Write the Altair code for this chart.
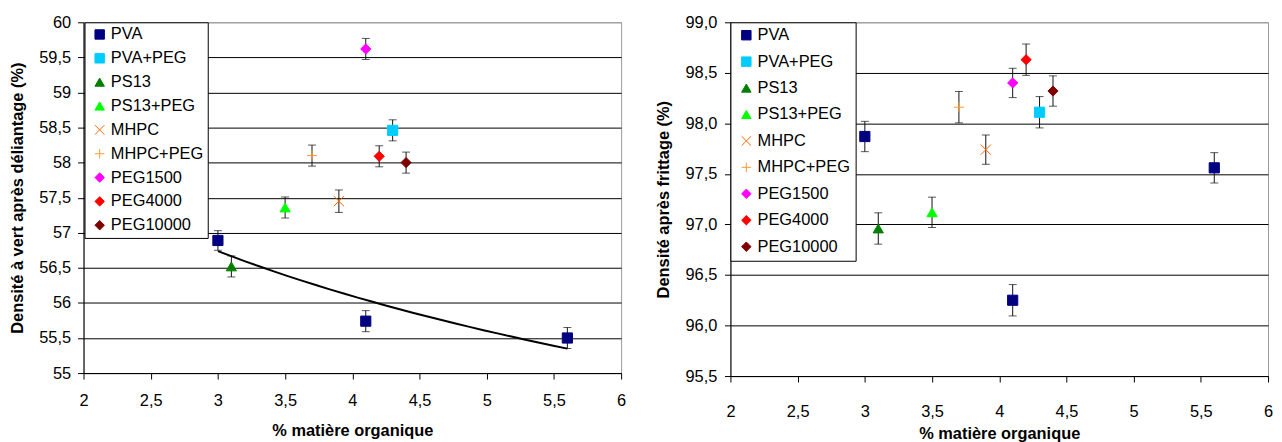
import altair as alt
import pandas as pd

# ---- data ----
series = ["PVA", "PVA+PEG", "PS13", "PS13+PEG", "MHPC", "MHPC+PEG",
          "PEG1500", "PEG4000", "PEG10000"]
colors = ["#000080", "#00CCFF", "#008000", "#00FF00", "#FF6600", "#FF9933",
          "#FF00FF", "#FF0000", "#800000"]
shapes = ["square", "square", "triangle-up", "triangle-up",
          "M-1,-1L1,1M-1,1L1,-1", "M-1,0L1,0M0,-1L0,1",
          "diamond", "diamond", "diamond"]

pt_serie = ["PVA", "PVA", "PVA", "PVA+PEG", "PS13", "PS13+PEG", "MHPC",
            "MHPC+PEG", "PEG1500", "PEG4000", "PEG10000"]
pt_x = [3.0, 4.1, 5.6, 4.3, 3.1, 3.5, 3.9, 3.7, 4.1, 4.2, 4.4]

green_y = [56.89, 55.74, 55.50, 58.46, 56.52, 57.36, 57.45, 58.10, 59.62, 58.09, 58.00]
green_err = [0.14, 0.15, 0.15, 0.15, 0.15, 0.15, 0.16, 0.15, 0.15, 0.15, 0.15]

sint_y = [97.87, 96.25, 97.56, 98.11, 96.96, 97.12, 97.74, 98.16, 98.40, 98.63, 98.32]
sint_err = [0.15, 0.155, 0.15, 0.155, 0.155, 0.15, 0.145, 0.155, 0.145, 0.155, 0.15]

x_ticks = [2, 2.5, 3, 3.5, 4, 4.5, 5, 5.5, 6]
left_y_ticks = [55, 55.5, 56, 56.5, 57, 57.5, 58, 58.5, 59, 59.5, 60]
right_y_ticks = [95.5, 96.0, 96.5, 97.0, 97.5, 98.0, 98.5, 99.0]

x_title = "% matière organique"
left_title = "Densité à vert après déliantage (%)"
right_title = "Densité après frittage (%)"

FONT = "Liberation Sans"
FS = 16.5


def make_panel(ys, errs, y_dom, y_vals, y_title, y_fmt, xlab_pad, xtitle_pad,
               ylab_pad, ytitle_pad, height, trend, legend_x, legend_pad,
               legend_rowpad):
    df = pd.DataFrame({"serie": pt_serie, "x": pt_x, "y": ys, "e": errs})
    base = alt.Chart(df).transform_calculate(
        lo="datum.y - datum.e", hi="datum.y + datum.e")

    xscale = alt.Scale(domain=[2, 6], nice=False, zero=False)
    yscale = alt.Scale(domain=y_dom, nice=False, zero=False)
    xaxis = alt.Axis(values=x_ticks, title=x_title, grid=False,
                     labelExpr="replace(format(datum.value, '~g'), '.', ',')",
                     labelFlush=False, labelOverlap=False, tickSize=6,
                     labelPadding=xlab_pad, titlePadding=xtitle_pad)
    yaxis = alt.Axis(values=y_vals, title=y_title, grid=True,
                     gridColor={"condition": {"test": f"datum.value == {y_dom[1]}",
                                              "value": "#999999"},
                                "value": "#000000"},
                     labelExpr=y_fmt, labelOverlap=False, tickSize=6,
                     labelPadding=ylab_pad, titlePadding=ytitle_pad)

    def X(f):
        return alt.X(f, type="quantitative", scale=xscale, axis=xaxis, title=x_title)

    def Y(f):
        return alt.Y(f, type="quantitative", scale=yscale, axis=yaxis, title=y_title)

    leg = alt.Legend(title=None, orient="none", legendX=legend_x, legendY=0,
                     fillColor="white", strokeColor="black", padding=legend_pad,
                     rowPadding=legend_rowpad, symbolOffset=3, labelOffset=3,
                     symbolSize=90, symbolStrokeWidth=1, symbolOpacity=1,
                     labelFont=FONT, labelFontSize=FS, labelColor="black",
                     labelLimit=300)

    rules = base.mark_rule(color="#111111", strokeWidth=1).encode(
        x=X("x"), y=Y("lo"), y2="hi:Q")
    cap_lo = base.mark_tick(orient="horizontal", size=8, thickness=1,
                            color="#111111").encode(x=X("x"), y=Y("lo"))
    cap_hi = base.mark_tick(orient="horizontal", size=8, thickness=1,
                            color="#111111").encode(x=X("x"), y=Y("hi"))
    layers = [rules, cap_lo, cap_hi]
    if trend:
        line = alt.Chart(df).transform_filter("datum.serie == 'PVA'").transform_regression(
            "x", "y", method="log", extent=[3, 5.6]).mark_line(
            color="black", strokeWidth=2).encode(x=X("x"), y=Y("y"))
        layers.append(line)

    pts = alt.Chart(df).mark_point(filled=True, size=105, strokeWidth=1, opacity=1).encode(
        x=X("x"), y=Y("y"),
        fill=alt.Fill("serie:N", scale=alt.Scale(domain=series, range=colors), legend=leg),
        stroke=alt.Stroke("serie:N", scale=alt.Scale(domain=series, range=colors), legend=leg),
        shape=alt.Shape("serie:N", scale=alt.Scale(domain=series, range=shapes), legend=leg),
    )
    layers.append(pts)
    return alt.layer(*layers).properties(width=541, height=height)


left = make_panel(green_y, green_err, [55, 60], left_y_ticks, left_title,
                  "replace(format(datum.value, '~g'), '.', ',')",
                  14, 13, 7, 13.4, 353, True, 1, 4, 7)
right = make_panel(sint_y, sint_err, [95.5, 99.0], right_y_ticks, right_title,
                   "replace(format(datum.value, '.1f'), '.', ',')",
                   21.5, 6.3, 7.7, 14, 356, False, 0, 4.75, 9.6)

chart = alt.hconcat(left, right, spacing=27).resolve_scale(
    fill="independent", stroke="independent", shape="independent"
).properties(
    padding={"left": 0, "top": 4, "right": 0, "bottom": 0}
).configure_view(
    stroke="#999999", strokeWidth=1
).configure_axis(
    labelFont=FONT, labelFontSize=FS, labelColor="black",
    titleFont=FONT, titleFontSize=FS, titleFontWeight="bold", titleColor="black",
    domainColor="black", tickColor="black", domainWidth=1, tickWidth=1, gridWidth=1
)

chart.save("out.html", embed_options={"renderer": "svg", "actions": False})
